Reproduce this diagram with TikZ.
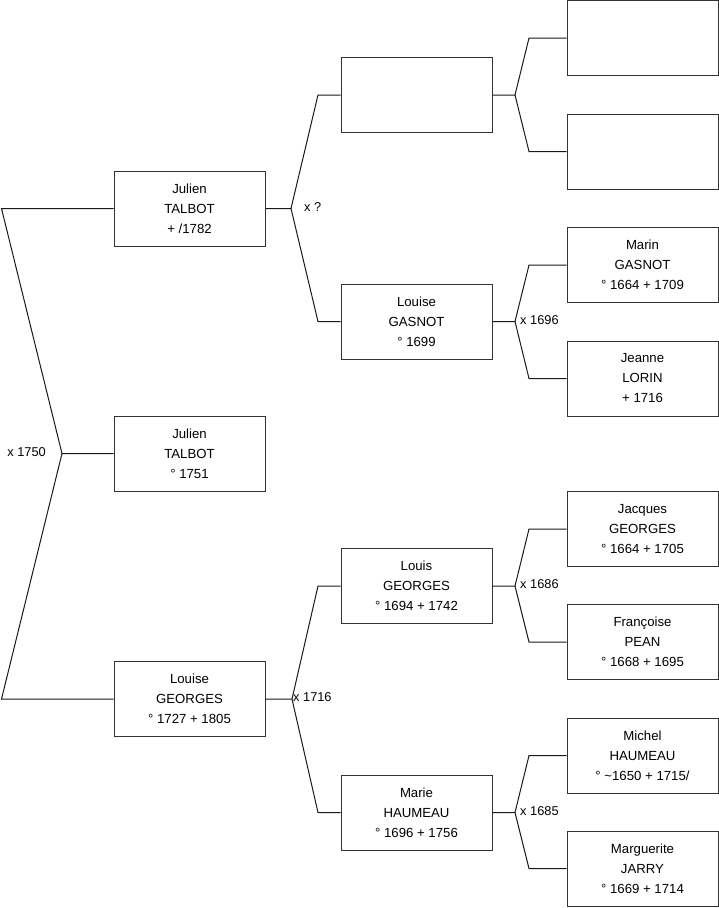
\documentclass[tikz,border=0pt]{standalone}
\usepackage{fontspec}
\setmainfont{Liberation Sans}
\begin{document}
\begin{tikzpicture}[x=1pt,y=-1pt,
  person/.style={draw=black!80,line width=1pt,minimum width=151pt,minimum height=75pt,
    inner sep=0pt,align=center,font=\fontsize{13.2}{20}\selectfont},
  link/.style={draw=black!90,line width=1pt},
  mlabel/.style={font=\fontsize{12.8}{14}\selectfont,inner sep=0pt}]
\useasboundingbox (0,0) rectangle (719,908);
% generation 1
\node[person] (j1) at (189.5,208.5) {Julien\\TALBOT\\+ /1782};
\node[person] (j2) at (189.5,453.5) {Julien\\TALBOT\\° 1751};
\node[person] (lg) at (189.5,699) {Louise\\GEORGES\\° 1727 + 1805};
% generation 2
\node[person] (e1) at (416.5,95) {};
\node[person] (lga) at (416.5,321.5) {Louise\\GASNOT\\° 1699};
\node[person] (lge) at (416.5,586) {Louis\\GEORGES\\° 1694 + 1742};
\node[person] (mh) at (416.5,812.5) {Marie\\HAUMEAU\\° 1696 + 1756};
% generation 3
\node[person] (e2) at (642.5,38) {};
\node[person] (e3) at (642.5,151.5) {};
\node[person] (mg) at (642.5,265) {Marin\\GASNOT\\° 1664 + 1709};
\node[person] (jl) at (642.5,378.5) {Jeanne\\LORIN\\+ 1716};
\node[person] (jg) at (642.5,529) {Jacques\\GEORGES\\° 1664 + 1705};
\node[person] (fp) at (642.5,642) {Françoise\\PEAN\\° 1668 + 1695};
\node[person] (mha) at (642.5,755.5) {Michel\\HAUMEAU\\° \textasciitilde1650 + 1715/};
\node[person] (mj) at (642.5,868.5) {Marguerite\\JARRY\\° 1669 + 1714};
% root fork
\coordinate (r0) at (62,453.5);
\coordinate (rt) at (1.5,208.5);
\coordinate (rb) at (1.5,699);
\draw[link] (j2.west) -- (r0) -- (rt) -- (j1.west);
\draw[link] (r0) -- (rb) -- (lg.west);
\node[mlabel,anchor=east] (m0) at (46,452) {x 1750};
% Julien TALBOT fork
\coordinate (v1) at (291,208.5);
\draw[link] (j1.east) -- (v1) -- (318,95) -- (e1.west);
\draw[link] (v1) -- (318,321.5) -- (lga.west);
\node[mlabel,anchor=west] (m1) at (304,207) {x ?};
% Louise GEORGES fork
\coordinate (v2) at (292,699);
\draw[link] (lg.east) -- (v2) -- (318,586) -- (lge.west);
\draw[link] (v2) -- (318,812.5) -- (mh.west);
\node[mlabel,anchor=west] (m2) at (293,697) {x 1716};
% empty fork
\coordinate (v3) at (515,95);
\draw[link] (e1.east) -- (v3) -- (529,38) -- (e2.west);
\draw[link] (v3) -- (529,151.5) -- (e3.west);
% Louise GASNOT fork
\coordinate (v4) at (515,321.5);
\draw[link] (lga.east) -- (v4) -- (529,265) -- (mg.west);
\draw[link] (v4) -- (529,378.5) -- (jl.west);
\node[mlabel,anchor=west] (m4) at (520,320) {x 1696};
% Louis GEORGES fork
\coordinate (v5) at (515,586);
\draw[link] (lge.east) -- (v5) -- (529,529) -- (jg.west);
\draw[link] (v5) -- (529,642) -- (fp.west);
\node[mlabel,anchor=west] (m5) at (520,584) {x 1686};
% Marie HAUMEAU fork
\coordinate (v6) at (515,812.5);
\draw[link] (mh.east) -- (v6) -- (529,755.5) -- (mha.west);
\draw[link] (v6) -- (529,868.5) -- (mj.west);
\node[mlabel,anchor=west] (m6) at (520,811) {x 1685};
\end{tikzpicture}
\end{document}
